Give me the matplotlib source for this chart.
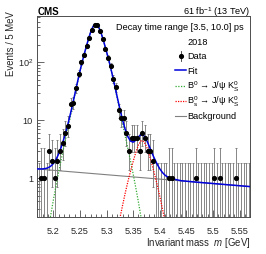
import numpy as np
import matplotlib.pyplot as plt
from matplotlib.lines import Line2D
from matplotlib.ticker import MultipleLocator, FixedLocator, NullFormatter

plt.rcParams['font.family'] = ['Liberation Sans', 'DejaVu Sans']
plt.rcParams['mathtext.fontset'] = 'custom'
plt.rcParams['mathtext.rm'] = 'Liberation Sans'
plt.rcParams['mathtext.it'] = 'Liberation Sans:italic'
plt.rcParams['mathtext.bf'] = 'Liberation Sans:bold'

# ── data: 5 MeV bins starting at 5.17 GeV ─────────────────────────────────────
BIN_LO = 5.17
BIN_W = 0.005
COUNTS = [0, 1, 1, 0, 3, 2, 1, 2, 3, 4,
          6, 8, 19, 20, 36, 64, 100, 133, 189, 259,
          355, 444, 440, 343, 253, 170, 121, 88, 52, 37,
          15, 11, 11, 6, 3, 5, 5, 5, 3, 6,
          5, 3, 3, 2, 0, 0, 0, 0, 0, 1,
          1, 0, 0, 0, 0, 0, 0, 0, 0, 1,
          0, 0, 0, 0, 0, 0, 1, 0, 1, 0,
          0, 0, 0, 0, 1, 0, 0, 0, 0, 0]

# ── fit curves ────────────────────────────────────────────────────────────────
FIT_M = [5.170, 5.175, 5.180, 5.185, 5.190, 5.195, 5.200, 5.205, 5.210, 5.215,
         5.220, 5.225, 5.230, 5.235, 5.240, 5.245, 5.250, 5.255, 5.260, 5.265,
         5.270, 5.275, 5.280, 5.285, 5.290, 5.295, 5.300, 5.305, 5.310, 5.315,
         5.320, 5.325, 5.330, 5.335, 5.340, 5.345, 5.350, 5.355, 5.360, 5.365,
         5.370, 5.375, 5.380, 5.385, 5.390, 5.395, 5.400, 5.405, 5.410, 5.415,
         5.420, 5.440, 5.470, 5.500, 5.530, 5.570]
FIT_TOTAL = [1.456, 1.451, 1.454, 1.473, 1.518, 1.614, 1.790, 2.097, 2.622, 3.470,
             4.829, 7.027, 10.64, 16.69, 26.98, 43.77, 69.86, 107.5, 160.3, 233.5,
             328.3, 419.7, 456.2, 410.5, 316.2, 223.5, 153.0, 102.2, 65.9, 41.1,
             25.44, 15.81, 10.22, 7.01, 5.25, 4.39, 4.20, 4.54, 5.21, 5.68,
             5.47, 4.62, 3.61, 2.78, 2.19, 1.76, 1.46, 1.26, 1.13, 1.05,
             1.00, 0.91, 0.858, 0.814, 0.772, 0.720]

B0_M = [5.180, 5.185, 5.190, 5.195, 5.200, 5.205, 5.210, 5.215, 5.220, 5.225,
        5.230, 5.235, 5.240, 5.245, 5.250, 5.255, 5.260, 5.265, 5.270, 5.275,
        5.280, 5.285, 5.290, 5.295, 5.300, 5.305, 5.310, 5.315, 5.320, 5.325,
        5.330, 5.335, 5.340, 5.345, 5.350, 5.355, 5.360, 5.365, 5.370, 5.375,
        5.380]
B0_VAL = [0.029, 0.060, 0.118, 0.226, 0.414, 0.733, 1.27, 2.13, 3.50, 5.71,
          9.33, 15.4, 25.7, 42.5, 68.6, 106.3, 159.1, 232.3, 327.1, 418.5,
          455.0, 409.3, 315.0, 222.3, 151.8, 101.1, 64.8, 40.0, 24.2, 14.5,
          8.79, 5.37, 3.30, 2.00, 1.19, 0.686, 0.386, 0.209, 0.109, 0.055,
          0.027]

BS_M = [5.315, 5.320, 5.325, 5.330, 5.335, 5.340, 5.345, 5.350, 5.355, 5.360,
        5.365, 5.370, 5.375, 5.380, 5.385, 5.390, 5.395, 5.400, 5.405, 5.410,
        5.415, 5.420]
BS_VAL = [0.070, 0.122, 0.203, 0.338, 0.552, 0.871, 1.32, 1.95, 2.80, 3.78,
          4.44, 4.34, 3.55, 2.58, 1.78, 1.20, 0.783, 0.492, 0.299, 0.180,
          0.108, 0.065]

BKG_M = [5.17, 5.57]
BKG_VAL = [1.45, 0.72]

# 68% Poisson intervals for small counts
POISSON_LO = [0.0, 0.173, 0.708, 1.367, 2.086, 2.840, 3.620, 4.419, 5.232]
POISSON_HI = [1.841, 3.300, 4.638, 5.918, 7.163, 8.382, 9.584, 10.77, 11.95]

counts = np.array(COUNTS, dtype=float)
centers = BIN_LO + BIN_W * (np.arange(len(counts)) + 0.5)
lo = np.empty_like(counts)
hi = np.empty_like(counts)
for i, n in enumerate(COUNTS):
    if n < len(POISSON_LO):
        lo[i], hi[i] = POISSON_LO[n], POISSON_HI[n]
    else:
        lo[i], hi[i] = n - np.sqrt(n), n + np.sqrt(n) + 0.5

W, H = 266, 255
fig = plt.figure(figsize=(W / 100, H / 100), dpi=100)


def fx(x):
    return x / W


def fy(y):
    return 1 - y / H


ax = fig.add_axes([fx(37.3), fy(218.3), (250.3 - 37.3) / W, (218.3 - 16.7) / H])
ax.set_yscale('log')
ax.set_xlim(5.17, 5.57)
ax.set_ylim(0.213, 636)

# error bars with end caps (zero bins go down to the axis)
ybase = np.where(counts > 0, counts, 1e-3)
ax.errorbar(centers, ybase, yerr=[ybase - np.maximum(lo, 1e-4), hi - ybase],
            fmt='none', ecolor='0.45', elinewidth=0.6, capsize=0.8,
            capthick=0.6, zorder=2)
nz = counts > 0
ax.plot(centers[nz], counts[nz], 'o', color='black', ms=2.7, zorder=5)

ax.plot(BKG_M, BKG_VAL, color='0.5', lw=0.8, zorder=3)
ax.plot(B0_M, B0_VAL, color='#33aa33', lw=0.9, ls=(0, (1, 1.2)), zorder=3)
ax.plot(BS_M, BS_VAL, color='red', lw=0.9, ls=(0, (1, 1)), zorder=3)
ax.plot(FIT_M, FIT_TOTAL, color='#0000dd', lw=1.1, zorder=4)

ax.xaxis.set_major_locator(MultipleLocator(0.05))
ax.xaxis.set_minor_locator(MultipleLocator(0.01))
ax.set_xticklabels([])
ax.yaxis.set_major_locator(FixedLocator([1, 10, 100]))
ax.yaxis.set_minor_locator(FixedLocator(
    [k * 10.0 ** e for e in (-1, 0, 1, 2) for k in range(2, 10)]))
ax.yaxis.set_major_formatter(NullFormatter())
ax.yaxis.set_minor_formatter(NullFormatter())
ax.tick_params(which='both', direction='in', width=0.6, color='0.3')
ax.tick_params(which='major', length=5)
ax.tick_params(which='minor', length=2.5)
for s in ax.spines.values():
    s.set_linewidth(0.7)
    s.set_color('0.3')

fs = 6.6
for v in np.arange(5.2, 5.56, 0.05):
    ax.text(v, -0.045, f"{v:.2f}".rstrip('0'), transform=ax.get_xaxis_transform(),
            ha='center', va='top', fontsize=fs, color='0.15')
for v, lab in [(1, '1'), (10, '10'), (100, '10$^2$')]:
    ax.text(-0.02, v, lab, transform=ax.get_yaxis_transform(),
            ha='right', va='center', fontsize=fs, color='0.15')

fig.text(fx(250.3), fy(243), 'Invariant mass  $\\mathit{m}$ [GeV]', ha='right',
         va='center', fontsize=fs + 0.3, color='0.15')
fig.text(fx(11), fy(11), 'Events / 5 MeV', rotation=90, ha='center', va='top',
         fontsize=fs + 0.3, color='0.15')
fig.text(fx(37.3), fy(12.0), 'CMS', ha='left', va='center', fontsize=7.0,
         fontweight='bold')
fig.text(fx(250.3), fy(12.5), '61 fb$^{-1}$ (13 TeV)', ha='right', va='center',
         fontsize=fs)

fig.text(fx(179.5), fy(27), 'Decay time range [3.5, 10.0] ps', ha='center',
         va='center', fontsize=fs)
fig.text(fx(197.5), fy(42.3), '2018', ha='center', va='center', fontsize=fs)

entries = [
    (56.7, 'Data', None),
    (71.0, 'Fit', dict(color='#0000dd', lw=1.1)),
    (87.0, 'B$^0$ \u2192 J/\u03c8 K$^0_\\mathrm{S}$',
     dict(color='#33aa33', lw=0.9, ls=(0, (1, 1.2)))),
    (101.7, 'B$^0_\\mathrm{s}$ \u2192 J/\u03c8 K$^0_\\mathrm{S}$',
     dict(color='red', lw=0.9, ls=(0, (1, 1)))),
    (116.7, 'Background', dict(color='0.5', lw=0.8)),
]
for y, label, style in entries:
    if style is None:
        fig.add_artist(Line2D([fx(180.7)] * 2, [fy(y - 5), fy(y + 5)],
                              color='0.2', lw=0.6))
        fig.add_artist(Line2D([fx(180.7)], [fy(y)], marker='o', ms=2.7,
                              color='black', ls='none'))
    else:
        fig.add_artist(Line2D([fx(174.7), fx(186.3)], [fy(y), fy(y)], **style))
    fig.text(fx(187.3), fy(y), label, ha='left', va='center', fontsize=fs)

fig.savefig('out.png', dpi=100)
